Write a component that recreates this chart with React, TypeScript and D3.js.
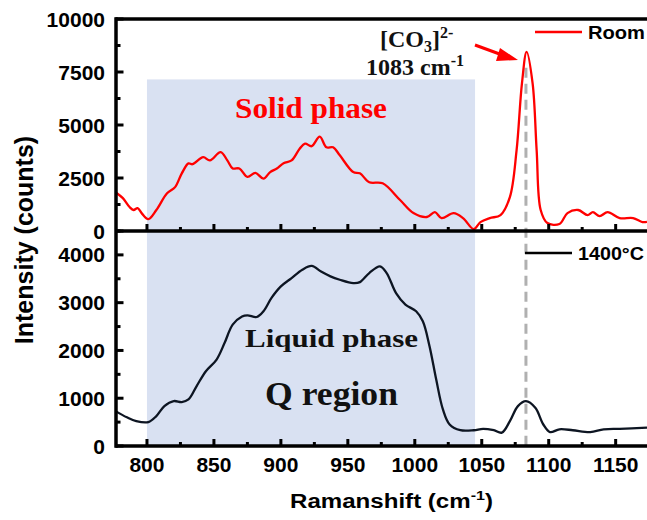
import React from "react";
import * as d3 from "d3";

// Room temperature spectrum (red)
const roomShift = [776.5, 782, 787, 790, 793, 796, 801, 807, 815, 821, 826, 831, 834, 842, 847, 855, 860, 864, 869, 875, 881, 887, 892, 897, 902, 908, 914, 918, 923, 929, 934, 939, 944, 954, 959, 966, 976, 989, 999, 1009, 1015, 1020, 1029, 1036, 1044, 1049, 1056, 1064, 1071, 1076, 1080, 1083.5, 1088, 1091, 1094, 1099, 1108, 1114, 1122, 1129, 1133, 1138, 1144, 1153, 1163, 1170, 1173.4];
const roomCounts = [1830, 1550, 1130, 990, 1080, 845, 560, 990, 1780, 2070, 2720, 3190, 3150, 3480, 3330, 3720, 3330, 2950, 2950, 2550, 2740, 2470, 2780, 2950, 3200, 3330, 3880, 4120, 4000, 4450, 3950, 3950, 3570, 2780, 2720, 2300, 2250, 1460, 845, 660, 890, 610, 845, 610, 90, 420, 610, 750, 1600, 3800, 6950, 8450, 6950, 3800, 990, 375, 330, 845, 990, 750, 890, 700, 890, 610, 610, 420, 430];

// 1400°C spectrum (black)
const hotShift = [776.5, 785, 792, 801, 807, 813, 820, 826, 831, 837, 844, 852, 858, 864, 871, 875, 882, 887, 893, 900, 908, 916, 923, 930, 937, 944, 954, 959, 966, 974, 979, 986, 993, 1001, 1006, 1011, 1016, 1021, 1026, 1034, 1044, 1051, 1059, 1065, 1071, 1077, 1083, 1090, 1096, 1101, 1108, 1118, 1131, 1141, 1153, 1173.4];
const hotCounts = [730, 600, 520, 500, 625, 835, 940, 920, 975, 1250, 1565, 1810, 2160, 2540, 2710, 2735, 2700, 2820, 3100, 3340, 3515, 3690, 3770, 3650, 3550, 3480, 3410, 3430, 3620, 3760, 3620, 3200, 2960, 2820, 2610, 2090, 1390, 765, 450, 330, 330, 360, 330, 280, 520, 835, 940, 800, 450, 290, 350, 330, 290, 350, 360, 385];

const xTickLabels = [800, 850, 900, 950, 1000, 1050, 1100, 1150];
const topTickLabels = [0, 2500, 5000, 7500, 10000];
const botTickLabels = [0, 1000, 2000, 3000, 4000];

const W = 647, H = 520;
const left = 115.5, right = 647;
const topY0 = 19, seamY = 231, botY = 446;

const sans = "'Liberation Sans', Arial, sans-serif";
const serif = "'Liberation Serif', 'Times New Roman', serif";

export default function App() {
  const x = d3.scaleLinear().domain([776.5, 1173.4]).range([left, right]);
  const yTop = d3.scaleLinear().domain([0, 10000]).range([seamY, topY0]);
  const yBot = d3.scaleLinear().domain([0, 4500]).range([botY, seamY]);

  const roomData = roomShift.map((s, i) => [s, roomCounts[i]]);
  const hotData = hotShift.map((s, i) => [s, hotCounts[i]]);

  const roomLine = d3.line<number[]>()
    .x(d => x(d[0])).y(d => yTop(d[1]))
    .curve(d3.curveCatmullRom.alpha(0.5))(roomData) || "";
  const hotLine = d3.line<number[]>()
    .x(d => x(d[0])).y(d => yBot(d[1]))
    .curve(d3.curveCatmullRom.alpha(0.5))(hotData) || "";

  const xMinor = d3.range(800, 1175, 25);
  const topMinor = d3.range(0, 10001, 1250);
  const botMinor = d3.range(0, 4501, 500);

  const axisW = 3.5;

  return (
    <svg width={W} height={H} style={{ position: "absolute", left: 0, top: 0, background: "#fff" }}>
      {/* shaded Q region */}
      <rect x={x(800)} y={yTop(7150)} width={x(1045) - x(800)} height={botY - yTop(7150)} fill="#d9e1f2" />

      {/* dashed marker at 1083 */}
      <line x1={x(1083)} x2={x(1083)} y1={yTop(7700)} y2={botY} stroke="#b0b0b0" strokeWidth={3} strokeDasharray="10,6" />

      {/* curves */}
      <path d={roomLine} fill="none" stroke="#ff0000" strokeWidth={2.3} />
      <path d={hotLine} fill="none" stroke="#0d1522" strokeWidth={2.3} />

      {/* frame */}
      <line x1={left} x2={right} y1={topY0} y2={topY0} stroke="#000" strokeWidth={axisW} />
      <line x1={left + 0.5} x2={left + 0.5} y1={topY0 - 1.7} y2={botY + 1.7} stroke="#000" strokeWidth={axisW} />
      <line x1={left} x2={right} y1={seamY} y2={seamY} stroke="#000" strokeWidth={axisW} />
      <line x1={left} x2={right} y1={botY} y2={botY} stroke="#000" strokeWidth={axisW} />

      {/* x ticks on both panels */}
      {[seamY, botY].map(base => (
        <g key={base}>
          {xMinor.map(v => {
            const major = xTickLabels.includes(v);
            return <line key={v} x1={x(v)} x2={x(v)} y1={base} y2={base - (major ? 7 : 4)} stroke="#000" strokeWidth={3} />;
          })}
        </g>
      ))}

      {/* y ticks */}
      {topMinor.map(v => {
        const major = topTickLabels.includes(v);
        return <line key={"t" + v} x1={left} x2={left + (major ? 8 : 5)} y1={yTop(v)} y2={yTop(v)} stroke="#000" strokeWidth={3} />;
      })}
      {botMinor.map(v => {
        const major = botTickLabels.includes(v);
        return <line key={"b" + v} x1={left} x2={left + (major ? 8 : 5)} y1={yBot(v)} y2={yBot(v)} stroke="#000" strokeWidth={3} />;
      })}

      {/* tick labels */}
      <g fontFamily={sans} fontWeight="bold" fontSize={21} fill="#000">
        {xTickLabels.map(v => (
          <text key={v} x={x(v)} y={472} textAnchor="middle">{v}</text>
        ))}
        {topTickLabels.map(v => (
          <text key={v} x={105} y={yTop(v)} dy="0.36em" textAnchor="end">{v}</text>
        ))}
        {botTickLabels.map(v => (
          <text key={v} x={105} y={yBot(v)} dy="0.36em" textAnchor="end">{v}</text>
        ))}
      </g>

      {/* axis titles */}
      <text transform="translate(33,240) rotate(-90)" textAnchor="middle" fontFamily={sans} fontWeight="bold" fontSize={25}>
        Intensity (counts)
      </text>
      <text x={290} y={508} fontFamily={sans} fontWeight="bold" fontSize={19.5} textLength={203} lengthAdjust="spacingAndGlyphs">
        Ramanshift (cm<tspan dy={-8} fontSize={13}>-1</tspan><tspan dy={8}>)</tspan>
      </text>

      {/* legends */}
      <line x1={535} x2={582} y1={32} y2={32} stroke="#ff0000" strokeWidth={2.5} />
      <text x={588} y={38.5} fontFamily={sans} fontWeight="bold" fontSize={18} textLength={57} lengthAdjust="spacingAndGlyphs">Room</text>
      <line x1={525} x2={572} y1={253} y2={253} stroke="#000" strokeWidth={2.5} />
      <text x={578} y={259.5} fontFamily={sans} fontWeight="bold" fontSize={18} textLength={66} lengthAdjust="spacingAndGlyphs">1400°C</text>

      {/* annotations */}
      <text x={235} y={118} fontFamily={serif} fontWeight="bold" fontSize={29} fill="#ff0000" textLength={152} lengthAdjust="spacingAndGlyphs">Solid phase</text>
      <text x={245} y={347} fontFamily={serif} fontWeight="bold" fontSize={26} fill="#111" textLength={173} lengthAdjust="spacingAndGlyphs">Liquid phase</text>
      <text x={265} y={405} fontFamily={serif} fontWeight="bold" fontSize={34} fill="#111" textLength={133} lengthAdjust="spacingAndGlyphs">Q region</text>

      <text x={380} y={47} fontFamily={serif} fontWeight="bold" fontSize={24} fill="#111">
        [CO<tspan dy={5} fontSize={16}>3</tspan><tspan dy={-5}>]</tspan><tspan dy={-9} fontSize={16}>2-</tspan>
      </text>
      <text x={366} y={75} fontFamily={serif} fontWeight="bold" fontSize={24} fill="#111">
        1083 cm<tspan dy={-9} fontSize={16}>-1</tspan>
      </text>

      {/* arrow */}
      <line x1={475} x2={505} y1={45} y2={56} stroke="#ff0000" strokeWidth={3} />
      <polygon points="518,60 500,48 496,61" fill="#ff0000" />
    </svg>
  );
}
